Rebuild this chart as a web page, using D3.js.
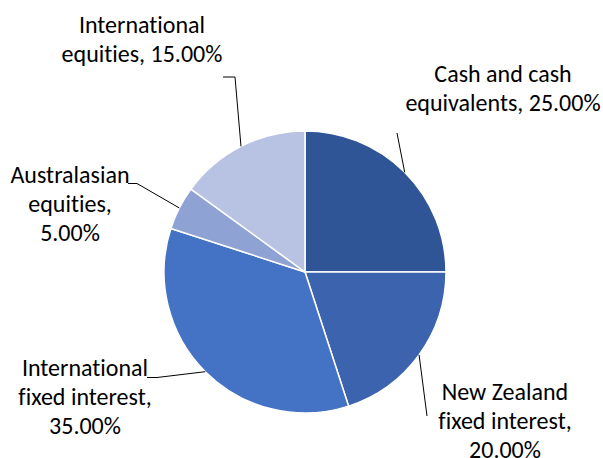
<!DOCTYPE html>
<html>
<head>
<meta charset="utf-8">
<script src="https://cdn.jsdelivr.net/npm/d3@7"></script>
<style>
  html, body { margin: 0; padding: 0; background: #fff; }
  text { font-family: Carlito, Calibri, Lato, sans-serif; font-variant-ligatures: none; }
</style>
</head>
<body>
<div id="chart"></div>
<script>
// data
const CATEGORIES = [
  "Cash and cash equivalents",
  "New Zealand fixed interest",
  "International fixed interest",
  "Australasian equities",
  "International equities",
];
const VALUES = [25, 20, 35, 5, 15];
const LABEL_LINES = [
  ["Cash and cash", "equivalents, 25.00%"],
  ["New Zealand", "fixed interest,", "20.00%"],
  ["International", "fixed interest,", "35.00%"],
  ["Australasian", "equities,", "5.00%"],
  ["International", "equities, 15.00%"],
];

// styles / layout
const COLORS = ["#2F5597", "#3C64AE", "#4472C4", "#8FA2D4", "#B8C3E3"];
const WIDTH = 603;
const HEIGHT = 458;
const CX = 305;
const CY = 272;
const R = 141;
const FONT_SIZE = 24;
const LINE_H = 28.8;
// label block: centre x, first baseline y, leader start, optional elbow
const LABEL_LAYOUT = [
  { x: 503, y: 82, start: [397, 133] },
  { x: 505, y: 400, start: [427, 416] },
  { x: 85, y: 376, start: [147, 377.5], elbow: [157, 377.5] },
  { x: 70, y: 183, start: [128, 183.5], elbow: [137, 183.5] },
  { x: 142, y: 33, start: [223, 77], elbow: [235, 77] },
];

const svg = d3
  .select("#chart")
  .append("svg")
  .attr("width", WIDTH)
  .attr("height", HEIGHT);

const pie = d3.pie().sort(null).value((d) => d);
const arcs = pie(VALUES);
const arc = d3.arc().innerRadius(0).outerRadius(R);

const g = svg.append("g").attr("transform", `translate(${CX},${CY})`);

g.selectAll("path")
  .data(arcs)
  .join("path")
  .attr("d", arc)
  .attr("fill", (d, i) => COLORS[i])
  .attr("stroke", "#fff")
  .attr("stroke-width", 1.5)
  .attr("stroke-linejoin", "round");

// leader lines: from label to the outer arc at the slice mid-angle
const line = d3.line();
svg
  .append("g")
  .selectAll("path")
  .data(arcs)
  .join("path")
  .attr("d", (d, i) => {
    const mid = (d.startAngle + d.endAngle) / 2;
    const end = [CX + R * Math.sin(mid), CY - R * Math.cos(mid)];
    const L = LABEL_LAYOUT[i];
    const pts = [L.start];
    if (L.elbow) pts.push(L.elbow);
    pts.push(end);
    return line(pts);
  })
  .attr("fill", "none")
  .attr("stroke", "#000")
  .attr("stroke-width", 1);

// labels
svg
  .append("g")
  .selectAll("text")
  .data(arcs)
  .join("text")
  .attr("text-anchor", "middle")
  .attr("font-size", FONT_SIZE)
  .attr("fill", "#000")
  .each(function (d, i) {
    const L = LABEL_LAYOUT[i];
    d3.select(this)
      .selectAll("tspan")
      .data(LABEL_LINES[i])
      .join("tspan")
      .attr("x", L.x)
      .attr("y", (_, j) => L.y + j * LINE_H)
      .text((t) => t);
  });
</script>
</body>
</html>
